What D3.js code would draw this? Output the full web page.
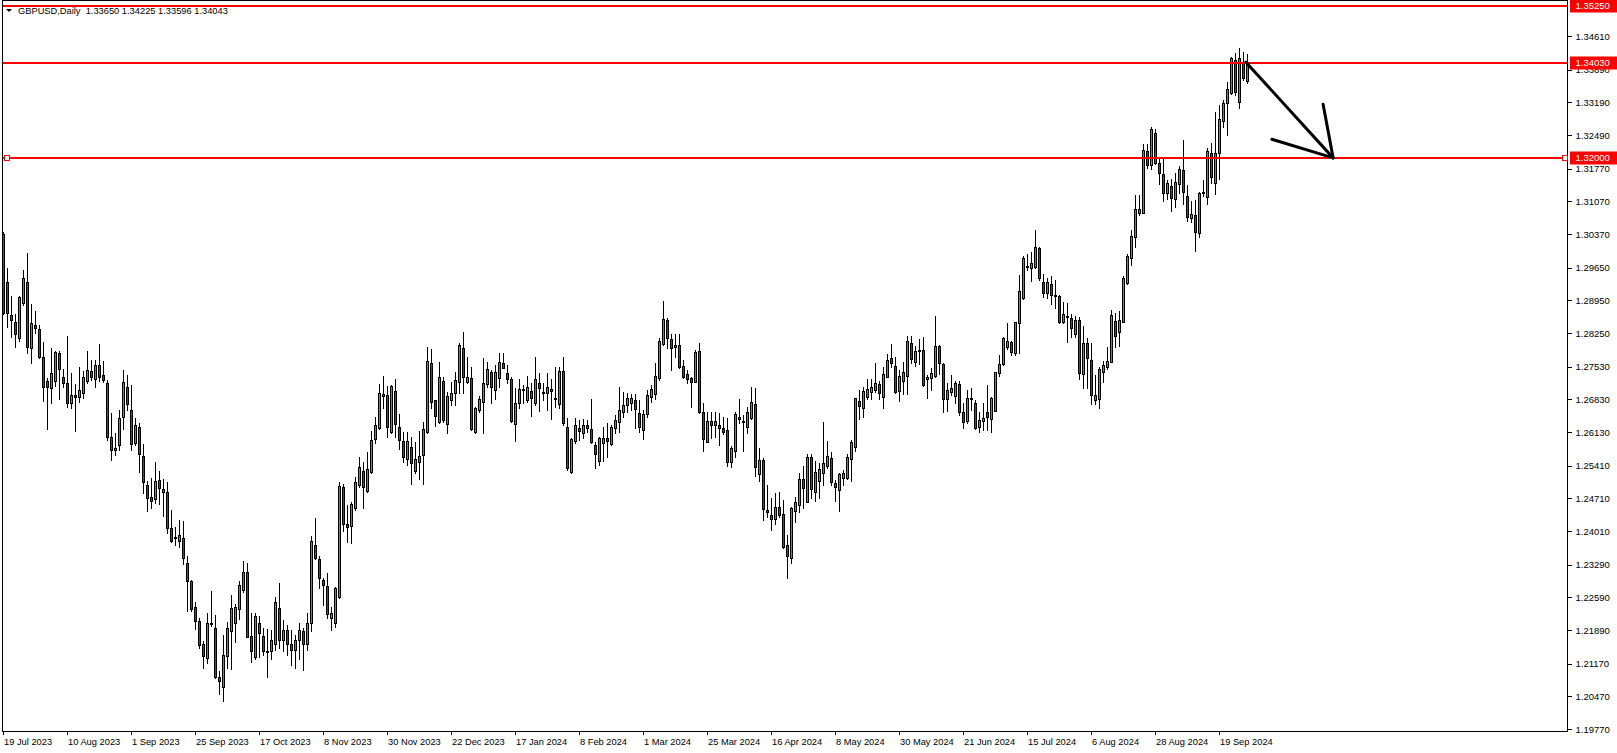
<!DOCTYPE html>
<html><head><meta charset="utf-8">
<script src="https://cdn.jsdelivr.net/npm/d3@7"></script>
<style>
html,body{margin:0;padding:0;background:#fff;overflow:hidden;}
svg{display:block;}
</style></head><body>
<svg id="chart" width="1617" height="753"></svg>
<script>
const symbolTitle = "GBPUSD,Daily";
const headerValues = ["1.33650", "1.34225", "1.33596", "1.34043"];

const dateLabels = ["19 Jul 2023","10 Aug 2023","1 Sep 2023","25 Sep 2023","17 Oct 2023","8 Nov 2023","30 Nov 2023","22 Dec 2023","17 Jan 2024","8 Feb 2024","1 Mar 2024","25 Mar 2024","16 Apr 2024","8 May 2024","30 May 2024","21 Jun 2024","15 Jul 2024","6 Aug 2024","28 Aug 2024","19 Sep 2024"];
const dateLabelBars = [0,16,32,48,64,80,96,112,128,144,160,176,192,208,224,240,256,272,288,304];

const priceTicks = [1.34610,1.33890,1.33190,1.32490,1.31770,1.31070,1.30370,1.29650,1.28950,1.28250,1.27530,1.26830,1.26130,1.25410,1.24710,1.24010,1.23290,1.22590,1.21890,1.21170,1.20470,1.19770];

const levels = [1.35250, 1.34030, 1.32000];
const selectedLevel = 1.32000;

const opens = [1.3037,1.2935,1.2864,1.2849,1.2815,1.2890,1.2935,1.2793,1.2843,1.2834,1.2774,1.2723,1.2708,1.2723,1.2783,1.2731,1.2718,1.2676,1.2693,1.2688,
1.2697,1.2723,1.2744,1.2727,1.2757,1.2736,1.2718,1.2603,1.2575,1.2586,1.2646,1.2710,1.2661,1.2590,1.2624,1.2562,1.2500,1.2474,1.2470,1.2511,
1.2485,1.2485,1.2408,1.2389,1.2380,1.2387,1.2333,1.2293,1.2239,1.2209,1.2158,1.2130,1.2203,1.2194,1.2089,1.2068,1.2134,1.2186,1.2205,1.2235,
1.2275,1.2314,1.2177,1.2132,1.2203,1.2177,1.2145,1.2143,1.2158,1.2237,1.2168,1.2190,1.2158,1.2147,1.2168,1.2186,1.2158,1.2203,1.2372,1.2342,
1.2295,1.2284,1.2215,1.2205,1.2260,1.2496,1.2415,1.2412,1.2451,1.2500,1.2530,1.2487,1.2528,1.2599,1.2622,1.2695,1.2693,1.2614,1.2701,1.2624,
1.2594,1.2556,1.2581,1.2530,1.2549,1.2564,1.2614,1.2761,1.2682,1.2635,1.2723,1.2631,1.2682,1.2697,1.2721,1.2793,1.2721,1.2729,1.2614,1.2661,
1.2678,1.2716,1.2742,1.2703,1.2729,1.2761,1.2740,1.2727,1.2631,1.2676,1.2706,1.2682,1.2701,1.2676,1.2718,1.2699,1.2697,1.2706,1.2686,1.2673,
1.2744,1.2624,1.2528,1.2594,1.2622,1.2611,1.2629,1.2620,1.2586,1.2551,1.2590,1.2601,1.2588,1.2622,1.2635,1.2656,1.2671,1.2676,1.2682,1.2654,
1.2618,1.2652,1.2688,1.2695,1.2729,1.2802,1.2853,1.2813,1.2795,1.2800,1.2755,1.2738,1.2729,1.2721,1.2787,1.2656,1.2592,1.2637,1.2629,1.2629,
1.2622,1.2618,1.2549,1.2573,1.2641,1.2637,1.2624,1.2643,1.2673,1.2524,1.2554,1.2447,1.2436,1.2427,1.2453,1.2438,1.2372,1.2344,1.2444,1.2457,
1.2513,1.2464,1.2560,1.2485,1.2509,1.2526,1.2541,1.2558,1.2504,1.2489,1.2515,1.2515,1.2556,1.2581,1.2680,1.2665,1.2688,1.2699,1.2703,1.2716,
1.2688,1.2731,1.2772,1.2755,1.2701,1.2723,1.2733,1.2804,1.2763,1.2789,1.2789,1.2727,1.2729,1.2733,1.2798,1.2759,1.2684,1.2699,1.2691,1.2716,
1.2656,1.2637,1.2684,1.2676,1.2624,1.2637,1.2656,1.2641,1.2658,1.2740,1.2759,1.2795,1.2806,1.2783,1.2847,1.2900,1.2969,1.2964,1.2967,1.3007,
1.2935,1.2911,1.2930,1.2907,1.2905,1.2849,1.2862,1.2857,1.2823,1.2853,1.2738,1.2804,1.2768,1.2682,1.2684,1.2742,1.2753,1.2763,1.2851,1.2827,
1.2849,1.2932,1.2986,1.3031,1.3082,1.3082,1.3215,1.3185,1.3253,1.3189,1.3166,1.3125,1.3140,1.3112,1.3144,1.3174,1.3119,1.3071,1.3078,1.3039,
1.3125,1.3116,1.3211,1.3146,1.3211,1.3279,1.3318,1.3339,1.3410,1.3320,1.3403,1.33650];

const highs = [1.3042,1.2964,1.2905,1.2866,1.2905,1.2960,1.2997,1.2887,1.2872,1.2843,1.2806,1.2729,1.2793,1.2787,1.2787,1.2748,1.2819,1.2740,1.2716,1.2753,
1.2744,1.2787,1.2768,1.2768,1.2802,1.2765,1.2725,1.2654,1.2611,1.2661,1.2746,1.2736,1.2714,1.2643,1.2633,1.2588,1.2509,1.2515,1.2549,1.2530,
1.2513,1.2507,1.2447,1.2410,1.2425,1.2423,1.2348,1.2297,1.2250,1.2215,1.2166,1.2226,1.2273,1.2222,1.2102,1.2179,1.2207,1.2263,1.2245,1.2293,
1.2337,1.2333,1.2226,1.2226,1.2218,1.2194,1.2192,1.2190,1.2260,1.2290,1.2211,1.2200,1.2190,1.2179,1.2203,1.2194,1.2226,1.2391,1.2429,1.2348,
1.2301,1.2312,1.2239,1.2282,1.2507,1.2502,1.2457,1.2464,1.2517,1.2560,1.2549,1.2571,1.2616,1.2646,1.2716,1.2733,1.2712,1.2714,1.2727,1.2652,
1.2614,1.2614,1.2603,1.2592,1.2616,1.2635,1.2795,1.2791,1.2682,1.2763,1.2731,1.2699,1.2721,1.2742,1.2804,1.2828,1.2774,1.2753,1.2667,1.2691,
1.2772,1.2763,1.2746,1.2757,1.2783,1.2783,1.2757,1.2731,1.2708,1.2727,1.2714,1.2733,1.2718,1.2774,1.2740,1.2718,1.2740,1.2727,1.2753,1.2753,
1.2774,1.2643,1.2601,1.2643,1.2639,1.2641,1.2639,1.2684,1.2592,1.2603,1.2624,1.2633,1.2629,1.2650,1.2710,1.2699,1.2697,1.2695,1.2695,1.2682,
1.2661,1.2703,1.2714,1.2761,1.2815,1.2894,1.2857,1.2823,1.2823,1.2823,1.2768,1.2746,1.2731,1.2789,1.2804,1.2676,1.2656,1.2656,1.2656,1.2654,
1.2646,1.2643,1.2584,1.2656,1.2684,1.2650,1.2667,1.2710,1.2708,1.2579,1.2558,1.2500,1.2472,1.2483,1.2485,1.2468,1.2393,1.2453,1.2474,1.2526,
1.2541,1.2566,1.2566,1.2551,1.2547,1.2635,1.2594,1.2571,1.2511,1.2526,1.2532,1.2566,1.2596,1.2686,1.2703,1.2710,1.2727,1.2727,1.2761,1.2723,
1.2753,1.2780,1.2802,1.2774,1.2746,1.2763,1.2819,1.2819,1.2798,1.2813,1.2817,1.2736,1.2751,1.2862,1.2799,1.2761,1.2718,1.2736,1.2723,1.2723,
1.2676,1.2703,1.2708,1.2682,1.2656,1.2676,1.2714,1.2688,1.2742,1.2778,1.2817,1.2847,1.2808,1.2849,1.2950,1.2990,1.2994,1.2999,1.3046,1.3009,
1.2952,1.2943,1.2947,1.2939,1.2906,1.2892,1.2890,1.2866,1.2862,1.2860,1.2840,1.2815,1.2804,1.2736,1.2753,1.2765,1.2795,1.2875,1.2868,1.2872,
1.2947,1.2994,1.3046,1.3121,1.3121,1.3230,1.3230,1.3266,1.3262,1.3200,1.3198,1.3153,1.3155,1.3168,1.3183,1.3238,1.3142,1.3108,1.3110,1.3127,
1.3153,1.3221,1.3232,1.3298,1.3313,1.3324,1.3363,1.3416,1.3425,1.3435,1.3427,1.34225];

const lows = [1.2866,1.2838,1.2817,1.2795,1.2808,1.2885,1.2783,1.2761,1.2825,1.2772,1.2680,1.2620,1.2676,1.2712,1.2684,1.2710,1.2667,1.2665,1.2616,1.2678,
1.2686,1.2718,1.2725,1.2710,1.2723,1.2721,1.2596,1.2554,1.2564,1.2575,1.2620,1.2661,1.2575,1.2586,1.2528,1.2483,1.2444,1.2451,1.2462,1.2459,
1.2434,1.2397,1.2378,1.2370,1.2367,1.2331,1.2230,1.2230,1.2192,1.2151,1.2108,1.2119,1.2198,1.2087,1.2053,1.2036,1.2108,1.2106,1.2164,1.2213,
1.2271,1.2173,1.2121,1.2126,1.2132,1.2136,1.2089,1.2126,1.2147,1.2151,1.2143,1.2136,1.2115,1.2108,1.2126,1.2104,1.2147,1.2186,1.2340,1.2280,
1.2243,1.2215,1.2188,1.2196,1.2258,1.2402,1.2378,1.2376,1.2447,1.2496,1.2451,1.2485,1.2526,1.2590,1.2620,1.2665,1.2603,1.2611,1.2603,1.2577,
1.2549,1.2543,1.2502,1.2526,1.2513,1.2502,1.2611,1.2665,1.2626,1.2633,1.2635,1.2611,1.2671,1.2671,1.2697,1.2697,1.2718,1.2618,1.2611,1.2656,
1.2611,1.2710,1.2676,1.2684,1.2710,1.2750,1.2718,1.2635,1.2594,1.2665,1.2676,1.2678,1.2648,1.2671,1.2658,1.2682,1.2661,1.2641,1.2667,1.2665,
1.2629,1.2532,1.2526,1.2590,1.2596,1.2601,1.2614,1.2590,1.2536,1.2543,1.2551,1.2560,1.2586,1.2611,1.2614,1.2646,1.2656,1.2661,1.2622,1.2614,
1.2599,1.2646,1.2678,1.2684,1.2725,1.2800,1.2793,1.2746,1.2774,1.2751,1.2729,1.2718,1.2667,1.2720,1.2654,1.2573,1.2591,1.2601,1.2603,1.2586,
1.2609,1.2541,1.2539,1.2560,1.2633,1.2573,1.2611,1.2641,1.2519,1.2509,1.2425,1.2432,1.2404,1.2415,1.2432,1.2365,1.2301,1.2333,1.2421,1.2442,
1.2451,1.2463,1.2472,1.2466,1.2472,1.2500,1.2536,1.2500,1.2466,1.2444,1.2500,1.2513,1.2509,1.2573,1.2641,1.2646,1.2684,1.2684,1.2699,1.2684,
1.2665,1.2730,1.2753,1.2697,1.2680,1.2695,1.2695,1.2761,1.2755,1.2759,1.2712,1.2686,1.2703,1.2731,1.2738,1.2656,1.2658,1.2693,1.2676,1.2650,
1.2622,1.2633,1.2661,1.2620,1.2614,1.2618,1.2618,1.2614,1.2657,1.2733,1.2757,1.2791,1.2778,1.2778,1.2783,1.2898,1.2960,1.2937,1.2964,1.2939,
1.2902,1.2900,1.2887,1.2879,1.2847,1.2846,1.2806,1.2817,1.2817,1.2727,1.2708,1.2708,1.2673,1.2673,1.2665,1.2721,1.2748,1.2762,1.2795,1.2798,
1.2848,1.2930,1.2971,1.3009,1.3078,1.3081,1.3178,1.3176,1.3187,1.3144,1.3108,1.3112,1.3086,1.3095,1.3125,1.3101,1.3065,1.3063,1.3001,1.3031,
1.3119,1.3101,1.3146,1.3123,1.3155,1.3266,1.3249,1.3337,1.3335,1.3307,1.3367,1.33596];

const closes = [1.2868,1.2868,1.2853,1.2823,1.2902,1.2943,1.2795,1.2847,1.2836,1.2774,1.2710,1.2710,1.2740,1.2785,1.2748,1.2718,1.2676,1.2693,1.2688,1.2703,
1.2731,1.2746,1.2731,1.2757,1.2731,1.2725,1.2603,1.2575,1.2579,1.2643,1.2721,1.2673,1.2588,1.2629,1.2566,1.2507,1.2472,1.2466,1.2509,1.2494,
1.2492,1.2408,1.2380,1.2387,1.2393,1.2344,1.2293,1.2235,1.2209,1.2156,1.2134,1.2205,1.2202,1.2088,1.2079,1.2136,1.2194,1.2237,1.2239,1.2286,
1.2314,1.2175,1.2143,1.2218,1.2183,1.2143,1.2143,1.2168,1.2248,1.2168,1.2190,1.2158,1.2147,1.2168,1.2190,1.2158,1.2203,1.2380,1.2344,1.2301,
1.2286,1.2224,1.2226,1.2280,1.2498,1.2417,1.2410,1.2459,1.2507,1.2539,1.2496,1.2534,1.2596,1.2629,1.2697,1.2691,1.2624,1.2712,1.2631,1.2596,
1.2560,1.2594,1.2547,1.2556,1.2562,1.2620,1.2765,1.2678,1.2648,1.2731,1.2639,1.2691,1.2697,1.2725,1.2800,1.2731,1.2731,1.2620,1.2665,1.2684,
1.2718,1.2748,1.2710,1.2742,1.2763,1.2751,1.2727,1.2636,1.2676,1.2706,1.2705,1.2710,1.2686,1.2727,1.2708,1.2698,1.2710,1.2701,1.2685,1.2744,
1.2633,1.2536,1.2599,1.2629,1.2616,1.2629,1.2622,1.2592,1.2566,1.2601,1.2601,1.2594,1.2624,1.2639,1.2661,1.2671,1.2686,1.2686,1.2663,1.2624,
1.2652,1.2693,1.2706,1.2733,1.2808,1.2855,1.2815,1.2793,1.2800,1.2753,1.2731,1.2727,1.2721,1.2785,1.2656,1.2599,1.2637,1.2629,1.2637,1.2622,
1.2614,1.2549,1.2579,1.2652,1.2646,1.2636,1.2656,1.2678,1.2539,1.2554,1.2449,1.2442,1.2427,1.2453,1.2436,1.2367,1.2348,1.2451,1.2464,1.2513,
1.2494,1.2560,1.2492,1.2528,1.2534,1.2547,1.2562,1.2507,1.2496,1.2524,1.2526,1.2560,1.2592,1.2685,1.2669,1.2701,1.2706,1.2710,1.2718,1.2697,
1.2738,1.2768,1.2761,1.2699,1.2733,1.2742,1.2808,1.2770,1.2787,1.2788,1.2713,1.2731,1.2740,1.2798,1.2761,1.2684,1.2703,1.2708,1.2718,1.2656,
1.2635,1.2686,1.2686,1.2622,1.2639,1.2643,1.2646,1.2686,1.2742,1.2759,1.2815,1.2808,1.2785,1.2849,1.2915,1.2986,1.2968,1.2975,1.3009,1.2943,
1.2911,1.2935,1.2907,1.2906,1.2849,1.2866,1.2861,1.2836,1.2853,1.2740,1.2804,1.2772,1.2693,1.2693,1.2748,1.2757,1.2765,1.2864,1.2819,1.2853,
1.2943,1.2990,1.3033,1.3091,1.3091,1.3217,1.3185,1.3262,1.3189,1.3168,1.3125,1.3146,1.3114,1.3149,1.3176,1.3127,1.3074,1.3080,1.3042,1.3125,
1.3126,1.3215,1.3159,1.3211,1.3283,1.3318,1.3348,1.3414,1.3341,1.3414,1.3371,1.34043];

// hand-drawn arrow annotation (bar index, price)
const arrowShaft = [{bar: 310.6, price: 1.3405}, {bar: 332.4, price: 1.3200}];
const arrowBarbs = [
  [{bar: 317.1, price: 1.3240}, {bar: 332.4, price: 1.3200}],
  [{bar: 329.9, price: 1.3315}, {bar: 332.4, price: 1.3200}]
];

const bullColor = "#2db42d";
const bearColor = "#ff0000";
const FONT = "'Liberation Sans', Arial, sans-serif";

const svg = d3.select("#chart");
const plot = {left: 2.5, right: 1567.5, top: 0.5, bottom: 731.5};
const n = opens.length;
const x = d3.scaleLinear().domain([0, n - 1]).range([3.5, 3.5 + 4 * (n - 1)]);
const y = d3.scaleLinear().domain([1.19770, 1.34610]).range([729, 36]);

svg.append("rect").attr("width", 1617).attr("height", 753).attr("fill", "#fff");

// frame
svg.append("rect")
  .attr("x", plot.left).attr("y", plot.top)
  .attr("width", plot.right - plot.left).attr("height", plot.bottom - plot.top)
  .attr("fill", "none").attr("stroke", "#000").attr("stroke-width", 1)
  .attr("shape-rendering", "crispEdges");

// candles
const idx = d3.range(n);
const cg = svg.append("g").attr("shape-rendering", "crispEdges");
cg.selectAll("line.wick").data(idx).join("line")
  .attr("class", "wick")
  .attr("x1", i => Math.floor(x(i)) + 0.5)
  .attr("x2", i => Math.floor(x(i)) + 0.5)
  .attr("y1", i => Math.round(y(highs[i])))
  .attr("y2", i => Math.round(y(lows[i])) + 1)
  .attr("stroke", "#000").attr("stroke-width", 1);

cg.selectAll("rect.body").data(idx).join("rect")
  .attr("class", "body")
  .attr("x", i => Math.floor(x(i)) - 0.5)
  .attr("width", 2)
  .attr("y", i => Math.round(y(Math.max(opens[i], closes[i]))) + 0.5)
  .attr("height", i => {
    const t = Math.round(y(Math.max(opens[i], closes[i])));
    const b = Math.round(y(Math.min(opens[i], closes[i])));
    return Math.max(b - t, 1);
  })
  .attr("fill", i => closes[i] > opens[i] ? bullColor : (closes[i] < opens[i] ? bearColor : "#000"))
  .attr("stroke", "#000").attr("stroke-width", 1);

// horizontal levels
const lg = svg.append("g");
levels.forEach(lv => {
  const yy = Math.round(y(lv));
  lg.append("line")
    .attr("x1", plot.left + 0.5).attr("x2", plot.right - 0.5)
    .attr("y1", yy).attr("y2", yy)
    .attr("stroke", "#ff0000").attr("stroke-width", 2)
    .attr("shape-rendering", "crispEdges");
});
// selection markers on 1.32000
{
  const yy = Math.round(y(selectedLevel));
  [plot.left + 1, plot.right - 6].forEach(px => {
    lg.append("rect")
      .attr("x", px + 0.5).attr("y", yy - 2.5)
      .attr("width", 5).attr("height", 5)
      .attr("fill", "#fff").attr("stroke", "#ff0000").attr("stroke-width", 1)
      .attr("shape-rendering", "crispEdges");
  });
}

// arrow
const line = d3.line().x(d => x(d.bar)).y(d => y(d.price));
const ag = svg.append("g").attr("fill", "none").attr("stroke", "#000")
  .attr("stroke-width", 3).attr("stroke-linecap", "round");
ag.append("path").attr("d", line(arrowShaft));
arrowBarbs.forEach(b => ag.append("path").attr("d", line(b)));

// right price axis
const yAxis = d3.axisRight(y).tickValues(priceTicks).tickSize(4).tickPadding(4)
  .tickFormat(d3.format(".5f"));
svg.append("g").attr("transform", `translate(${plot.right},0)`).call(yAxis)
  .call(g => g.select(".domain").remove())
  .attr("font-family", FONT).attr("font-size", 9.5)
  .call(g => g.selectAll("line").attr("stroke", "#000").attr("shape-rendering", "crispEdges"))
  .call(g => g.selectAll("text").attr("fill", "#000"));

// bottom date axis
const xAxis = d3.axisBottom(x).tickValues(dateLabelBars)
  .tickFormat((d, i) => dateLabels[i]).tickSize(3).tickPadding(4);
svg.append("g").attr("transform", `translate(0,${plot.bottom})`).call(xAxis)
  .call(g => g.select(".domain").remove())
  .attr("font-family", FONT).attr("font-size", 9.3)
  .call(g => g.selectAll("line").attr("stroke", "#000").attr("transform", "translate(-1,0)").attr("shape-rendering", "crispEdges"))
  .call(g => g.selectAll("text").attr("fill", "#000").attr("text-anchor", "start").attr("x", 0));

// level price labels on the axis
levels.forEach(lv => {
  const yy = Math.round(y(lv));
  svg.append("rect").attr("x", 1570).attr("y", yy - 6.5).attr("width", 47).attr("height", 13)
    .attr("fill", "#ff0000");
  svg.append("text").attr("x", 1575.5).attr("y", yy).attr("dy", "0.34em")
    .attr("font-family", FONT).attr("font-size", 9.5).attr("fill", "#fff")
    .text(d3.format(".5f")(lv));
});

// header
svg.append("path").attr("d", "M6,9 L12,9 L9,12 Z").attr("fill", "#000");
svg.append("text").attr("x", 18).attr("y", 14)
  .attr("font-family", FONT).attr("font-size", 9.3).attr("fill", "#000")
  .attr("xml:space", "preserve")
  .text(symbolTitle + "  " + headerValues.join(" "));
</script>
</body></html>
